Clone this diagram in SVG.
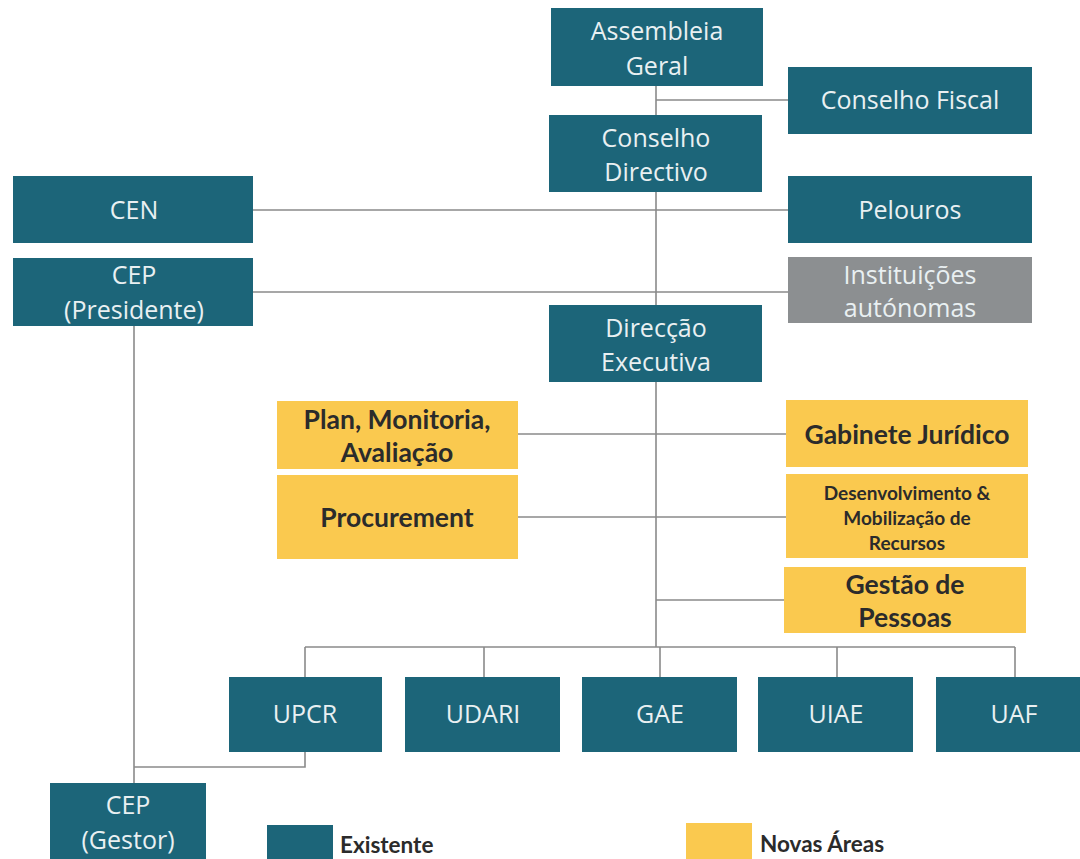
<svg xmlns="http://www.w3.org/2000/svg" width="1080" height="859" viewBox="0 0 1080 859">
<style>
.t{fill:#1c6579}
.y{fill:#fac94f}
.g{fill:#8c8f91}
.tt{font-family:"Open Sans","Liberation Sans",sans-serif;font-size:25px;fill:#e9f0f2;text-anchor:middle}
.yt{font-family:Lato,"Liberation Sans",sans-serif;font-weight:bold;font-size:26.5px;fill:#2b2b2b;text-anchor:middle}
.ys{font-family:Lato,"Liberation Sans",sans-serif;font-weight:bold;font-size:19px;fill:#2b2b2b;text-anchor:middle}
.lt{font-family:Lato,"Liberation Sans",sans-serif;font-weight:bold;font-size:22.5px;fill:#2b2b2b}
.c line,.c polyline{stroke:#8a8a8a;stroke-width:1.6;fill:none}
</style>
<rect width="1080" height="859" fill="#ffffff"/>
<g class="c" id="connectors">
<line x1="656" y1="86" x2="656" y2="647"/>
<line x1="656" y1="100" x2="788" y2="100"/>
<line x1="253" y1="210" x2="788" y2="210"/>
<line x1="253" y1="292" x2="788" y2="292"/>
<line x1="518" y1="434" x2="786" y2="434"/>
<line x1="518" y1="517" x2="786" y2="517"/>
<line x1="656" y1="600" x2="784" y2="600"/>
<line x1="305" y1="647" x2="1015" y2="647"/>
<line x1="305" y1="647" x2="305" y2="677"/>
<line x1="484" y1="647" x2="484" y2="677"/>
<line x1="660" y1="647" x2="660" y2="677"/>
<line x1="837" y1="647" x2="837" y2="677"/>
<line x1="1015" y1="647" x2="1015" y2="677"/>
<line x1="134" y1="326" x2="134" y2="783"/>
<polyline points="305,752 305,767 134,767"/>
</g>
<g id="assembleia"><rect class="t" x="551" y="8" width="212" height="78"/><text class="tt" x="657" y="40">Assembleia</text><text class="tt" x="657" y="75">Geral</text></g>
<g id="conselho-fiscal"><rect class="t" x="788" y="67" width="244" height="67"/><text class="tt" x="910" y="109">Conselho Fiscal</text></g>
<g id="conselho-directivo"><rect class="t" x="549" y="115" width="213" height="77"/><text class="tt" x="656" y="147">Conselho</text><text class="tt" x="656" y="181">Directivo</text></g>
<g id="cen"><rect class="t" x="13" y="176" width="240" height="67"/><text class="tt" x="134" y="219">CEN</text></g>
<g id="pelouros"><rect class="t" x="788" y="176" width="244" height="67"/><text class="tt" x="910" y="219">Pelouros</text></g>
<g id="cep-presidente"><rect class="t" x="13" y="258" width="240" height="68"/><text class="tt" x="134" y="284">CEP</text><text class="tt" x="134" y="319">(Presidente)</text></g>
<g id="instituicoes"><rect class="g" x="788" y="257" width="244" height="66"/><text class="tt" x="910" y="284">Instituições</text><text class="tt" x="910" y="317">autónomas</text></g>
<g id="direccao"><rect class="t" x="549" y="305" width="213" height="77"/><text class="tt" x="656" y="337">Direcção</text><text class="tt" x="656" y="371">Executiva</text></g>
<g id="plan"><rect class="y" x="277" y="401" width="241" height="68"/><text class="yt" x="397" y="429">Plan, Monitoria,</text><text class="yt" x="397" y="462">Avaliação</text></g>
<g id="procurement"><rect class="y" x="277" y="475" width="241" height="84"/><text class="yt" x="397" y="527">Procurement</text></g>
<g id="gabinete"><rect class="y" x="786" y="400" width="242" height="67"/><text class="yt" x="907" y="444">Gabinete Jurídico</text></g>
<g id="desenvolvimento"><rect class="y" x="786" y="474" width="242" height="84"/><text class="ys" x="907" y="500">Desenvolvimento &amp;</text><text class="ys" x="907" y="525">Mobilização de</text><text class="ys" x="907" y="550">Recursos</text></g>
<g id="gestao"><rect class="y" x="784" y="567" width="242" height="66"/><text class="yt" x="905" y="594">Gestão de</text><text class="yt" x="905" y="627">Pessoas</text></g>
<g id="upcr"><rect class="t" x="229" y="677" width="153" height="75"/><text class="tt" x="305" y="723">UPCR</text></g>
<g id="udari"><rect class="t" x="405" y="677" width="155" height="75"/><text class="tt" x="483" y="723">UDARI</text></g>
<g id="gae"><rect class="t" x="582" y="677" width="155" height="75"/><text class="tt" x="660" y="723">GAE</text></g>
<g id="uiae"><rect class="t" x="758" y="677" width="155" height="75"/><text class="tt" x="836" y="723">UIAE</text></g>
<g id="uaf"><rect class="t" x="936" y="677" width="150" height="75"/><text class="tt" x="1014" y="723">UAF</text></g>
<g id="cep-gestor"><rect class="t" x="50" y="783" width="156" height="80"/><text class="tt" x="128" y="814">CEP</text><text class="tt" x="128" y="849">(Gestor)</text></g>
<g id="legend">
<rect class="t" x="267" y="825" width="66" height="40"/><text class="lt" x="340" y="853">Existente</text>
<rect class="y" x="686" y="823" width="66" height="40"/><text class="lt" x="760" y="852">Novas Áreas</text>
</g>
</svg>
